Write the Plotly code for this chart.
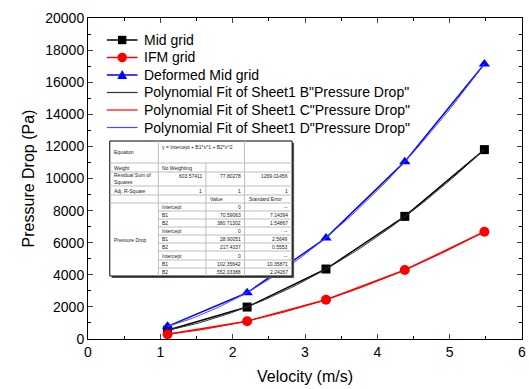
import numpy as np
import plotly.graph_objects as go

# ---------------- data ----------------
velocity = [1.1, 2.2, 3.29, 4.38, 5.48]
mid_grid = [540, 1990, 4360, 7640, 11800]
ifm_grid = [300, 1110, 2450, 4300, 6680]
deformed_mid = [790, 2880, 6300, 11050, 17130]

series_names = ["Mid grid", "IFM grid", "Deformed Mid grid"]

# polynomial fit coefficients (from the inset table)
fit_names = ['Polynomial Fit of Sheet1 B"Pressure Drop"',
             'Polynomial Fit of Sheet1 C"Pressure Drop"',
             'Polynomial Fit of Sheet1 D"Pressure Drop"']
fit_intercept = [0, 0, 0]
fit_b1 = [70.59063, 28.90051, 102.35642]
fit_b2 = [380.71302, 217.4337, 552.03388]
fit_b1_err = [7.14394, 2.5649, 10.35871]
fit_b2_err = [1.54867, 0.5553, 2.24267]
rss = ["603.57411", "77.80278", "1269.01456"]
adj_r2 = ["1", "1", "1"]

x_ticks = [0, 1, 2, 3, 4, 5, 6]
y_ticks = list(range(0, 20001, 2000))

# ---------------- figure ----------------
W, H = 529, 389
L, R, T, B = 88, 3, 18, 50
pw, ph = W - L - R, H - T - B

def px(xp):
    return (xp - L) / pw

def py(yp):
    return (H - B - yp) / ph

fig = go.Figure()

colors = ["black", "red", "blue"]
symbols = ["square", "circle", "triangle-up"]
sizes = [9, 10, 10]
all_y = [mid_grid, ifm_grid, deformed_mid]
fit_colors = ["#333333", "#ff0000", "#4a4aff"]
xs = np.linspace(min(velocity), max(velocity), 60)

for i in range(3):
    fig.add_trace(go.Scatter(x=velocity, y=all_y[i], name=series_names[i], mode="lines+markers",
                             line=dict(color=colors[i], width=1.5),
                             marker=dict(symbol=symbols[i], size=sizes[i], color=colors[i])))
for i, nm in enumerate(fit_names):
    yfit = fit_intercept[i] + fit_b1[i] * xs + fit_b2[i] * xs ** 2
    fig.add_trace(go.Scatter(x=xs, y=yfit, name=nm, mode="lines",
                             line=dict(color=fit_colors[i], width=1)))

font = "Liberation Sans, Arial, sans-serif"

fig.update_layout(
    width=W, height=H, margin=dict(l=L, r=R, t=T, b=B),
    paper_bgcolor="white", plot_bgcolor="white",
    font=dict(family=font, color="black", size=14),
    showlegend=False,
    xaxis=dict(range=[0, 6], tickvals=x_ticks, ticks="inside", ticklen=5,
               showline=True, linecolor="black", linewidth=1, mirror="ticks",
               showgrid=False, zeroline=False, ticklabeloverflow="allow",
               minor=dict(dtick=0.5, ticks="inside", ticklen=3, tickcolor="black"),
               title=dict(text="Velocity (m/s)", font=dict(size=16), standoff=12),
               tickfont=dict(size=14)),
    yaxis=dict(range=[0, 20000], tickvals=y_ticks, tickformat="d", ticks="inside", ticklen=5,
               showline=True, linecolor="black", linewidth=1, mirror="ticks",
               showgrid=False, zeroline=False, ticklabeloverflow="allow",
               minor=dict(dtick=1000, ticks="inside", ticklen=3, tickcolor="black"),
               title=dict(text="Pressure Drop (Pa)", font=dict(size=16), standoff=6),
               tickfont=dict(size=14)),
)

shapes = []
ann = []

# ---------------- legend (drawn as in the original) ----------------
leg_names = series_names + fit_names
leg_colors = colors + fit_colors
leg_y0, leg_dy = 40, 17.5
lx0, lx1, ltx = 107, 138, 143
for k, nm in enumerate(leg_names):
    yc = leg_y0 + k * leg_dy
    shapes.append(dict(type="line", xref="paper", yref="paper", x0=px(lx0), x1=px(lx1),
                       y0=py(yc), y1=py(yc), line=dict(color=leg_colors[k], width=1.5 if k < 3 else 1.2)))
    cx = (lx0 + lx1) / 2
    s = 4.2
    if k == 0:
        shapes.append(dict(type="rect", xref="paper", yref="paper", x0=px(cx - s), x1=px(cx + s),
                           y0=py(yc + s), y1=py(yc - s), fillcolor="black", line=dict(width=0)))
    elif k == 1:
        shapes.append(dict(type="circle", xref="paper", yref="paper", x0=px(cx - 4.8), x1=px(cx + 4.8),
                           y0=py(yc + 4.8), y1=py(yc - 4.8), fillcolor="red", line=dict(width=0)))
    elif k == 2:
        p = f"M {px(cx - 5)} {py(yc + 4)} L {px(cx + 5)} {py(yc + 4)} L {px(cx)} {py(yc - 5)} Z"
        shapes.append(dict(type="path", xref="paper", yref="paper", path=p,
                           fillcolor="blue", line=dict(width=0)))
    ann.append(dict(text=nm, xref="paper", yref="paper", x=px(ltx), y=py(yc),
                    xanchor="left", yanchor="middle", showarrow=False,
                    font=dict(size=14, family=font, color="black")))

# ---------------- inset table ----------------
cols = [110, 159, 207, 246, 294]
rows = [141, 163, 172, 186, 195, 203]
prow = [203, 211, 219, 227, 235, 243, 251, 260, 268, 276]

shapes.append(dict(type="rect", xref="paper", yref="paper",
                   x0=px(cols[0] + 2), x1=px(cols[-1] + 2), y0=py(rows[0] + 2), y1=py(prow[-1] + 2),
                   fillcolor="#555555", line=dict(width=0), layer="above"))
shapes.append(dict(type="rect", xref="paper", yref="paper",
                   x0=px(cols[0]), x1=px(cols[-1]), y0=py(rows[0]), y1=py(prow[-1]),
                   fillcolor="white", line=dict(color="black", width=1), layer="above"))

def hline(x0, x1, y):
    shapes.append(dict(type="line", xref="paper", yref="paper", x0=px(x0), x1=px(x1),
                       y0=py(y), y1=py(y), line=dict(color="#bdbdbd", width=1), layer="above"))

def vline(x, y0, y1):
    shapes.append(dict(type="line", xref="paper", yref="paper", x0=px(x), x1=px(x),
                       y0=py(y0), y1=py(y1), line=dict(color="#bdbdbd", width=1), layer="above"))

for y in rows[1:]:
    hline(cols[0], cols[-1], y)
for y in prow[1:-1]:
    hline(cols[1], cols[-1], y)
vline(cols[1], rows[0], prow[-1])
vline(cols[2], rows[1], prow[-1])
vline(cols[3], rows[0], prow[-1])

fs = 5

def txt(s, x, y, xa="left", ya="middle"):
    ann.append(dict(text=s, xref="paper", yref="paper", x=px(x), y=py(y),
                    xanchor=xa, yanchor=ya, showarrow=False, align="left",
                    font=dict(size=fs, family=font, color="#222222")))

def mid(a, b):
    return (a + b) / 2

txt("Equation", cols[0] + 2, mid(rows[0], rows[1]))
txt("y = Intercept + B1*x^1 + B2*x^2", cols[1] + 2, rows[0] + 1, ya="top")
txt("Weight", cols[0] + 2, mid(rows[1], rows[2]))
txt("No Weighting", cols[1] + 2, mid(rows[1], rows[2]))
txt("Residual Sum of<br>Squares", cols[0] + 2, mid(rows[2], rows[3]))
for j, v in enumerate(rss):
    txt(v, cols[j + 2] - 2, mid(rows[2], rows[3]) - 3, xa="right")
txt("Adj. R-Square", cols[0] + 2, mid(rows[3], rows[4]))
for j, v in enumerate(adj_r2):
    txt(v, cols[j + 2] - 2, mid(rows[3], rows[4]), xa="right")
txt("Value", cols[2] + 2, mid(rows[4], rows[5]))
txt("Standard Error", cols[3] + 2, mid(rows[4], rows[5]))
txt("Pressure Drop", cols[0] + 2, mid(prow[0], prow[-1]))

for i in range(3):
    names = ["Intercept", "B1", "B2"]
    vals = [str(fit_intercept[i]), f"{fit_b1[i]}", f"{fit_b2[i]}"]
    errs = ["--", f"{fit_b1_err[i]}", f"{fit_b2_err[i]}"]
    for k in range(3):
        r = 3 * i + k
        yc = mid(prow[r], prow[r + 1])
        txt(names[k], cols[1] + 2, yc)
        txt(vals[k], cols[3] - 2, yc, xa="right")
        txt(errs[k], cols[4] - 2, yc, xa="right")

fig.update_layout(shapes=shapes, annotations=ann)

fig.write_html("out.html")
